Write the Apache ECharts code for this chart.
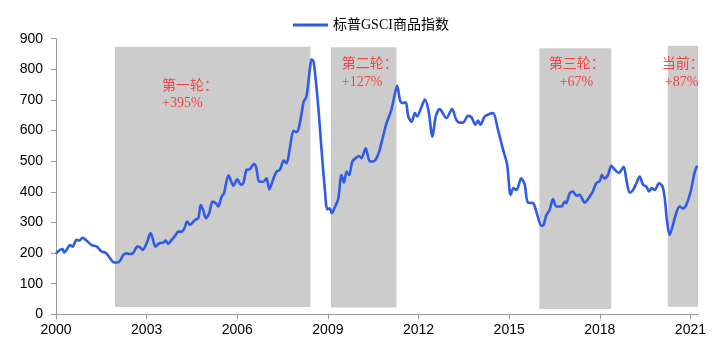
<!DOCTYPE html>
<html><head><meta charset="utf-8">
<script src="https://cdn.jsdelivr.net/npm/echarts@6/dist/echarts.min.js"></script>
<style>html,body{margin:0;padding:0;background:#fff}#c{width:721px;height:347px}</style>
</head><body><div id="c"></div>
<script>
// years since 2000 (decimal) and S&P GSCI index values
const years = [0.00,0.13,0.22,0.27,0.35,0.46,0.55,0.68,0.77,0.88,1.01,1.18,1.35,1.51,1.65,1.79,1.90,2.03,2.12,2.23,2.34,2.45,2.56,2.69,2.78,2.87,3.00,3.13,3.20,3.29,3.42,3.55,3.63,3.71,3.83,3.94,4.05,4.16,4.25,4.34,4.43,4.60,4.71,4.79,4.87,4.96,5.07,5.18,5.29,5.37,5.48,5.56,5.62,5.71,5.87,6.00,6.12,6.20,6.31,6.42,6.55,6.62,6.73,6.86,6.97,7.06,7.19,7.30,7.41,7.54,7.63,7.74,7.86,7.96,8.04,8.13,8.20,8.29,8.40,8.46,8.53,8.68,8.79,8.90,8.98,9.06,9.13,9.23,9.34,9.45,9.53,9.62,9.70,9.81,9.92,10.03,10.11,10.25,10.39,10.50,10.66,10.81,10.94,11.10,11.21,11.29,11.40,11.51,11.58,11.66,11.77,11.88,11.95,12.10,12.21,12.33,12.46,12.57,12.70,12.92,13.11,13.25,13.36,13.47,13.64,13.75,13.88,13.97,14.05,14.19,14.36,14.47,14.63,14.80,14.93,15.05,15.14,15.24,15.40,15.51,15.62,15.79,15.90,16.07,16.14,16.23,16.34,16.45,16.56,16.73,16.84,16.89,17.00,17.11,17.23,17.33,17.50,17.66,17.77,17.88,18.00,18.07,18.16,18.27,18.38,18.49,18.63,18.79,18.88,18.99,19.10,19.21,19.32,19.43,19.54,19.63,19.71,19.82,19.96,20.07,20.15,20.22,20.31,20.40,20.51,20.64,20.75,20.86,21.02,21.13,21.22];
const values = [199,210,213,201,210,226,221,243,241,250,241,226,221,205,201,183,170,169,175,194,199,197,201,221,219,210,232,265,248,221,232,234,241,230,243,256,270,270,281,303,292,308,314,357,341,314,330,368,363,352,384,395,423,454,420,441,423,428,472,474,491,482,433,433,444,408,441,466,472,502,493,542,599,595,610,657,695,711,798,833,823,678,537,406,343,346,330,350,376,455,430,466,455,499,510,517,510,542,499,499,521,575,624,668,717,746,695,690,692,646,629,657,646,678,701,665,580,646,670,641,670,635,626,626,648,644,619,633,619,646,655,657,602,537,490,390,412,406,444,425,365,363,335,289,292,324,341,376,352,352,368,363,395,401,387,390,365,384,401,428,435,455,443,455,485,473,462,482,439,397,406,428,450,423,417,401,412,406,428,419,379,308,259,284,324,352,346,357,406,461,485];
// shaded rally periods: [start, end, bottom, top]
const bandStart = [1.95, 9.10, 16.00, 20.25];
const bandEnd   = [8.42, 11.27, 18.38, 21.28];
const bandLow   = [24, 22, 17, 25];
const bandHigh  = [874, 872, 869, 877];
// annotation texts and anchor (data coords, text top-left)
const noteText = ['第一轮：','+395%','第二轮：','+127%','第三轮：','+67%','当前：','+87%'];
const noteX    = [3.51, 3.51, 9.46, 9.46, 16.31, 16.67, 20.05, 20.15];
const noteY    = [766, 711, 838, 779, 838, 779, 838, 779];
const seriesName = '标普GSCI商品指数';
const yTicks = [0, 900, 100];

const chart = echarts.init(document.getElementById('c'), null, {renderer:'canvas'});
const serif = "'Liberation Serif','Times New Roman','Noto Sans CJK SC',serif";
const sans = "'Liberation Sans',Arial,sans-serif";
chart.setOption({
  animation: false,
  backgroundColor: '#fff',
  grid: {left: 56, right: 23, top: 38.7, bottom: 32.7, containLabel: false},
  legend: {
    data: [{name: seriesName, icon: 'rect'}], left: 288, top: 13, itemWidth: 35, itemHeight: 3, itemGap: 5,
    textStyle: {fontFamily: serif, fontSize: 14, color: '#000'}
  },
  xAxis: {
    type: 'value', min: 0, max: 21.25, interval: 3,
    axisLine: {show: true, lineStyle: {color: '#9a9a9a', width: 1}},
    axisTick: {show: true, length: 5, lineStyle: {color: '#9a9a9a'}},
    axisLabel: {fontFamily: sans, fontSize: 14, color: '#000', margin: 9, formatter: v => String(2000 + v)},
    splitLine: {show: false}
  },
  yAxis: {
    type: 'value', min: yTicks[0], max: yTicks[1], interval: yTicks[2],
    axisLine: {show: true, lineStyle: {color: '#9a9a9a', width: 1}},
    axisTick: {show: true, length: 5, lineStyle: {color: '#9a9a9a'}},
    axisLabel: {fontFamily: sans, fontSize: 14, color: '#000', margin: 13},
    splitLine: {show: false}
  },
  series: [
    {
      name: seriesName, type: 'line', showSymbol: false, symbol: 'none', smooth: 0.3,
      data: years.map((t, i) => [t, values[i]]),
      lineStyle: {color: '#2F5CE6', width: 2.6}, itemStyle: {color: '#2F5CE6'},
      z: 3,
      markArea: {
        silent: true,
        itemStyle: {color: '#cccccc'},
        data: bandStart.map((s, i) => [{coord: [s, bandLow[i]]}, {coord: [bandEnd[i], bandHigh[i]]}])
      }
    },
    {
      name: 'notes', type: 'scatter', symbolSize: 0, silent: true, z: 4,
      data: noteText.map((txt, i) => ({value: [noteX[i], noteY[i]], name: txt})),
      label: {
        show: true, position: 'inside', align: 'left', verticalAlign: 'top',
        formatter: p => p.name, color: '#FF2222', fontSize: 14, fontFamily: serif
      }
    }
  ]
});
</script></body></html>
